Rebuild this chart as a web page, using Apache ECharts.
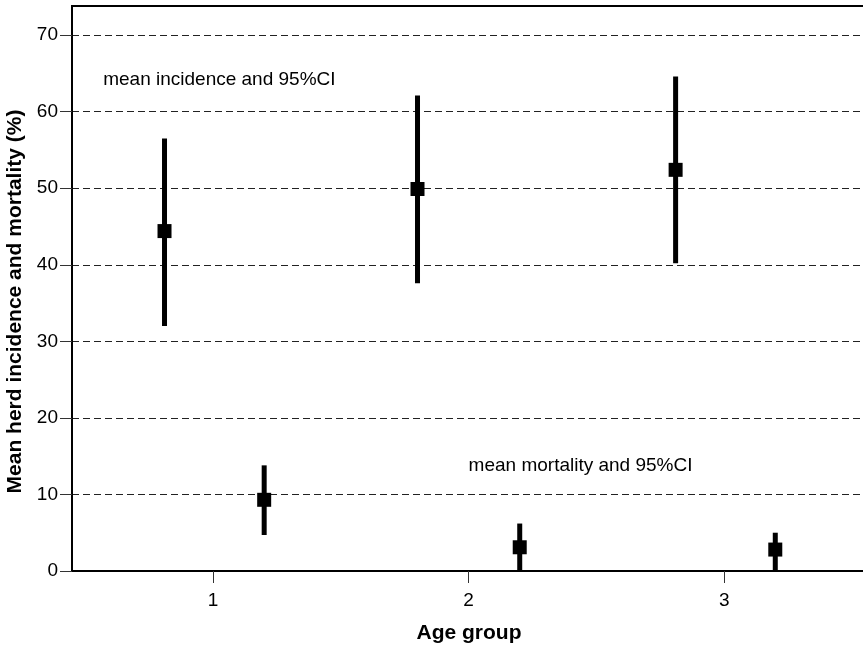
<!DOCTYPE html>
<html>
<head>
<meta charset="utf-8">
<script src="https://cdn.jsdelivr.net/npm/echarts@6/dist/echarts.min.js"></script>
<style>
  html, body { margin: 0; padding: 0; background: #fff; }
  #chart { width: 863px; height: 647px; }
</style>
</head>
<body>
<div id="chart"></div>
<script>
// age groups on the x axis
const ageGroups = [1, 2, 3]
const yTicks = [0, 10, 20, 30, 40, 50, 60, 70]

// incidence: x position, mean, lower and upper 95%CI
const incidenceX = [0.81, 1.80, 2.81]
const incidenceMean = [44.4, 49.9, 52.4]
const incidenceLow = [32.0, 37.6, 40.2]
const incidenceHigh = [56.5, 62.1, 64.6]

// mortality: x position, mean, lower and upper 95%CI
const mortalityX = [1.2, 2.2, 3.2]
const mortalityMean = [9.3, 3.1, 2.8]
const mortalityLow = [4.7, 0, 0]
const mortalityHigh = [13.8, 6.2, 5.0]

// annotation text anchors [x, y]
const notes = [
  { x: 0.57, y: 64.2, text: 'mean incidence and 95%CI' },
  { x: 2.0, y: 13.8, text: 'mean mortality and 95%CI' }
]

const FONT = '"Liberation Sans", Arial, sans-serif'

function ciData(xs, mean, low, high) {
  return xs.map((x, i) => [x, mean[i], low[i], high[i]])
}

function renderCI(params, api) {
  const x = api.value(0)
  const pMean = api.coord([x, api.value(1)])
  const pLow = api.coord([x, api.value(2)])
  const pHigh = api.coord([x, api.value(3)])
  const s = 14
  return {
    type: 'group',
    children: [
      {
        type: 'line',
        shape: { x1: pLow[0], y1: pLow[1], x2: pHigh[0], y2: pHigh[1] },
        style: { stroke: '#000', lineWidth: 5 }
      },
      {
        type: 'rect',
        shape: { x: pMean[0] - s / 2, y: pMean[1] - s / 2, width: s, height: s },
        style: { fill: '#000' }
      }
    ]
  }
}

const chart = echarts.init(document.getElementById('chart'), null, { renderer: 'canvas' })

const option = {
  animation: false,
  backgroundColor: '#fff',
  grid: {
    left: 72,
    right: -3,
    top: 6,
    bottom: 76,
    outerBoundsMode: 'none',
    containLabel: false,
    show: true,
    borderColor: '#000',
    borderWidth: 2
  },
  xAxis: {
    type: 'value',
    min: 0.448,
    max: 3.555,
    name: 'Age group',
    nameLocation: 'middle',
    nameGap: 52,
    nameTextStyle: { fontFamily: FONT, fontSize: 21, fontWeight: 'bold', color: '#000' },
    axisLine: { lineStyle: { color: '#000', width: 2 } },
    axisTick: { show: true, length: 12, customValues: ageGroups, lineStyle: { color: '#333', width: 1 } },
    axisLabel: { customValues: ageGroups, margin: 20, fontFamily: FONT, fontSize: 19, color: '#000' },
    splitLine: { show: false }
  },
  yAxis: {
    type: 'value',
    min: 0,
    max: 73.8,
    interval: 10,
    name: 'Mean herd incidence and mortality (%)',
    nameLocation: 'middle',
    nameGap: 43,
    nameTextStyle: { fontFamily: FONT, fontSize: 21, fontWeight: 'bold', color: '#000', padding: [0, 26, 0, 0] },
    axisLine: { show: true, lineStyle: { color: '#000', width: 2 } },
    axisTick: { show: true, length: 12, customValues: yTicks, lineStyle: { color: '#333', width: 1 } },
    axisLabel: { customValues: yTicks, margin: 14, fontFamily: FONT, fontSize: 19, color: '#000' },
    splitLine: { show: true, lineStyle: { color: '#222', width: 1, type: [7, 4] } }
  },
  series: [
    {
      name: 'incidence',
      type: 'custom',
      renderItem: renderCI,
      data: ciData(incidenceX, incidenceMean, incidenceLow, incidenceHigh),
      encode: { x: 0, y: [1, 2, 3] },
      z: 5
    },
    {
      name: 'mortality',
      type: 'custom',
      renderItem: renderCI,
      data: ciData(mortalityX, mortalityMean, mortalityLow, mortalityHigh),
      encode: { x: 0, y: [1, 2, 3] },
      z: 5
    },
    {
      name: 'notes',
      type: 'scatter',
      symbolSize: 0,
      silent: true,
      itemStyle: { opacity: 1 },
      data: notes.map(n => ({ value: [n.x, n.y], name: n.text })),
      label: {
        show: true,
        position: 'right',
        distance: 0,
        formatter: p => p.name,
        fontFamily: FONT,
        fontSize: 19,
        color: '#000',
        opacity: 1
      }
    }
  ]
}

chart.setOption(option)
</script>
</body>
</html>
